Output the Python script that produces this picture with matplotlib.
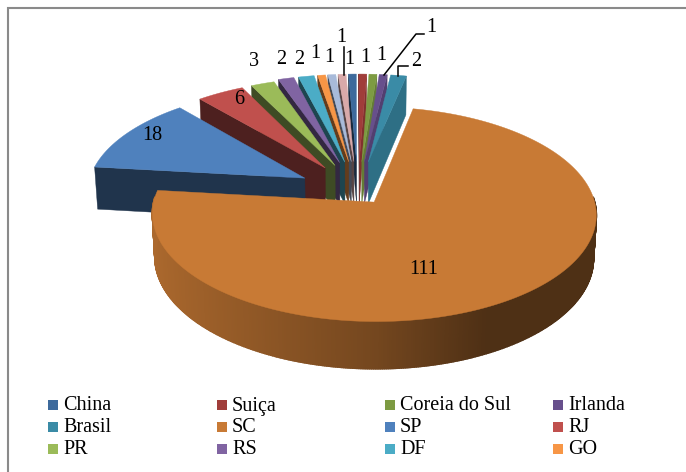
import numpy as np
import matplotlib
matplotlib.use("Agg")
import matplotlib.pyplot as plt
from matplotlib.colors import to_rgb
from matplotlib.patches import Rectangle, Polygon

categories = ["China", "Suiça", "Coreia do Sul", "Irlanda", "Brasil", "SC", "SP", "RJ",
              "PR", "RS", "DF", "GO", "", ""]
values = [1, 1, 1, 1, 2, 111, 18, 6, 3, 2, 2, 1, 1, 1]
colors = ["#3d6a9c", "#a03d3a", "#7d9b42", "#674f8c", "#3a8ba6", "#c87a35", "#4f81bd", "#c0504d",
          "#9bbb59", "#8064a2", "#4bacc6", "#f79646", "#a8bad9", "#d9a9a9"]
explode = [0.30, 0.30, 0.30, 0.30, 0.30, 0.125, 0.28, 0.28, 0.28, 0.30, 0.30, 0.30, 0.30, 0.30]

plt.rcParams["font.family"] = ["Liberation Serif", "DejaVu Serif"]
fig = plt.figure(figsize=(6.86, 4.72), dpi=100)
ax = fig.add_axes([0, 0, 1, 1])
ax.set_xlim(0, 686)
ax.set_ylim(472, 0)
ax.axis("off")

CX, CY, SX, SY, K, D, M = 358.0, 191.5, 218.0, 103.5, 0.112, 43.5, 0.012
START = -2.5

def proj(X, Y, z=0.0):
    w = 1 - K * np.asarray(Y) + M * z
    return CX + SX * np.asarray(X) / w, CY + (SY * np.asarray(Y) + D * z) / w

def shade(c, f):
    return tuple(min(1, v * f) for v in to_rgb(c))

total = sum(values)
edges = START + np.cumsum([0] + values) / total * 360
slices = []
for i, v in enumerate(values):
    a0, a1 = edges[i], edges[i + 1]
    mid = np.radians((a0 + a1) / 2)
    ox, oy = explode[i] * np.sin(mid), -explode[i] * np.cos(mid)
    slices.append((oy, i, a0, a1, ox, oy))

for order, (_, i, a0, a1, ox, oy) in enumerate(sorted(slices)):
    c = colors[i]
    t = np.radians(np.linspace(a0, a1, max(8, int(a1 - a0) * 2)))
    rimx, rimy = ox + np.sin(t), oy - np.cos(t)
    z0 = order * 3 + 3
    # radial walls, only those facing the viewer
    mx, my = proj(ox + 0.6 * np.sin((t[0] + t[-1]) / 2), oy - 0.6 * np.cos((t[0] + t[-1]) / 2))
    for tt in (t[0], t[-1]):
        ax0, ay0 = proj(ox, oy)
        bx0, by0 = proj(ox + np.sin(tt), oy - np.cos(tt))
        ex, ey = bx0 - ax0, by0 - ay0
        side_int = ex * (my - ay0) - ey * (mx - ax0)
        side_down = ex * 1.0
        if side_int * side_down < 0:
            ax1, ay1 = proj(ox, oy, 1)
            bx1, by1 = proj(ox + np.sin(tt), oy - np.cos(tt), 1)
            f = 0.8 if np.sin(tt) > 0 else 0.4
            ax.add_patch(Polygon([(ax0, ay0), (bx0, by0), (bx1, by1), (ax1, ay1)],
                                 closed=True, fc=shade(c, f), ec=shade(c, f), lw=0.3, zorder=z0))
    # outer wall, front half only
    for j in range(len(t) - 1):
        if np.cos(t[j]) < 0.05 or np.cos(t[j + 1]) < 0.05:
            x0, y0 = proj(rimx[j:j + 2], rimy[j:j + 2], 0)
            x1, y1 = proj(rimx[j:j + 2], rimy[j:j + 2], 1)
            f = np.interp(np.sin((t[j] + t[j + 1]) / 2), [-1, 0, 0.45, 1], [0.86, 0.58, 0.39, 0.39])
            col = shade(c, f)
            ax.add_patch(Polygon([(x0[0], y0[0]), (x0[1], y0[1]), (x1[1], y1[1]), (x1[0], y1[0])],
                                 closed=True, fc=col, ec=col, lw=1.2, zorder=z0 + 1))
    # top face
    px, py = proj(np.r_[ox, rimx], np.r_[oy, rimy])
    ax.add_patch(Polygon(np.c_[px, py], closed=True, fc=c, ec=c, lw=0.3, zorder=z0 + 2))

# data labels
label_pos = [(349, 59), (365, 58), (381, 56), (431, 28), (416, 61), (424, 269), (152, 135),
             (239, 99), (254, 62), (281, 60), (299, 60), (315, 53), (329, 58), (341, 38)]
for v, (x, y) in zip(values, label_pos):
    ax.text(x, y, str(v), fontsize=14.5, color="black", ha="center", va="center", zorder=100)

# leader lines
ax.plot([344, 344], [47, 75], color="black", lw=1.1, zorder=99)
ax.plot([384, 416, 424], [75, 34, 34], color="black", lw=1.1, zorder=99)
ax.plot([398, 398, 408], [76, 66, 66], color="black", lw=1.1, zorder=99)

# legend
col_x = [48, 217, 385, 553]
row_y = [405, 427, 449]
for n in range(12):
    r, q = divmod(n, 4)
    x, y = col_x[q], row_y[r]
    ax.add_patch(Rectangle((x, y - 5), 10, 10, fc=colors[n], ec="none", zorder=50))
    ax.text(x + 15, y + 1, categories[n], fontsize=14.5, va="center", ha="left", color="black", zorder=50)

# frame: top and left edges only
ax.plot([7.5, 7.5, 686], [472, 7.5, 7.5], color="#8a8a8a", lw=1.5, zorder=1, solid_joinstyle="miter")

fig.savefig("out.png", dpi=100)
